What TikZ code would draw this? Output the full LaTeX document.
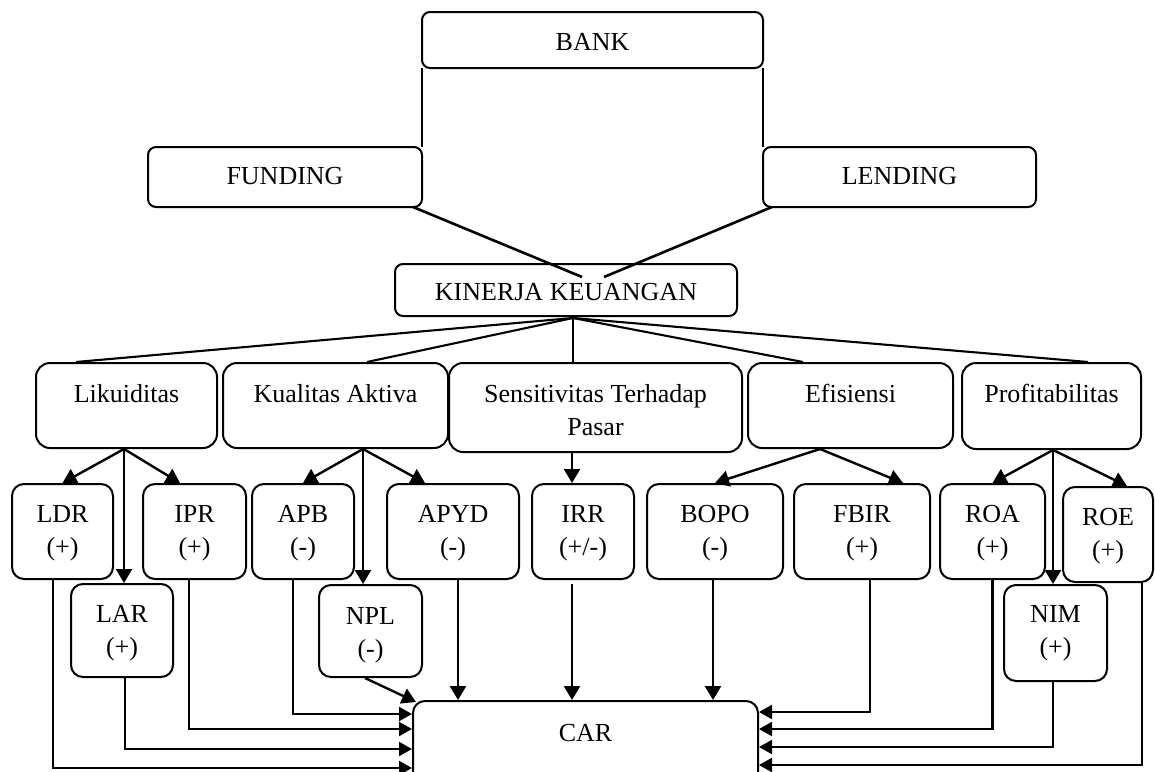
\documentclass[tikz,border=0pt]{standalone}
\usepackage{fontspec}
\setmainfont{Liberation Serif}
\usetikzlibrary{arrows.meta}
\newcommand{\twol}[2]{\begin{tabular}[t]{@{}c@{}}#1\\#2\end{tabular}}
\begin{document}
\begin{tikzpicture}[x=1pt,y=-1pt,
  box/.style={draw, line width=2pt, rounded corners=12pt, inner sep=0pt, anchor=north,
              font=\fontsize{26}{33}\selectfont},
  topbox/.style={box, rounded corners=8pt, outer sep=0pt},
  catbox/.style={box, rounded corners=14pt, text height=39pt},
  smallbox/.style={box, text height=38pt, text depth=57pt},
  ln/.style={line width=2.6pt},
  thinln/.style={line width=1.8pt},
  fan/.style={line width=2.1pt},
  arr/.style={line width=2.4pt, -{Triangle[length=14pt,width=16pt]}},
  arrc/.style={line width=2.2pt, -{Triangle[length=13pt,width=14pt]}},
]
\clip (0,0) rectangle (1155,771);
% top level
\node[topbox, minimum width=341pt, text height=38pt, text depth=18pt] (bank) at (592.5,12) {BANK};
\node[topbox, minimum width=274pt, text height=37pt, text depth=23pt] (funding) at (285,147) {FUNDING};
\node[topbox, minimum width=273pt, text height=37pt, text depth=23pt] (lending) at (899.5,147) {LENDING};
\node[topbox, minimum width=342pt, text height=36pt, text depth=16pt] (kin) at (566,264) {KINERJA KEUANGAN};
% categories
\node[catbox, minimum width=181pt, text depth=46pt] (lik) at (126.5,362) {Likuiditas};
\node[catbox, minimum width=225pt, text depth=46pt] (kua) at (335.5,362) {Kualitas Aktiva};
\node[catbox, minimum width=293pt, text depth=50pt] (sen) at (595.5,362) {\twol{Sensitivitas Terhadap}{Pasar}};
\node[catbox, minimum width=205pt, text depth=46pt] (eff) at (850.5,362) {Efisiensi};
\node[catbox, minimum width=179pt, text depth=47pt] (pro) at (1051.5,362) {Profitabilitas};
% ratios
\node[smallbox, minimum width=101pt] (ldr) at (62.5,483) {\twol{LDR}{(+)}};
\node[smallbox, minimum width=103pt] (ipr) at (194.5,483) {\twol{IPR}{(+)}};
\node[smallbox, minimum width=102pt] (apb) at (303,483) {\twol{APB}{(-)}};
\node[smallbox, minimum width=132pt] (apyd) at (453,483) {\twol{APYD}{(-)}};
\node[smallbox, minimum width=102pt] (irr) at (583,483) {\twol{IRR}{(+/-)}};
\node[smallbox, minimum width=136pt] (bopo) at (715,483) {\twol{BOPO}{(-)}};
\node[smallbox, minimum width=136pt] (fbir) at (862,483) {\twol{FBIR}{(+)}};
\node[smallbox, minimum width=105pt] (roa) at (992.5,483) {\twol{ROA}{(+)}};
\node[smallbox, minimum width=90pt] (roe) at (1108,486) {\twol{ROE}{(+)}};
\node[box, minimum width=102pt, text height=38pt, text depth=55pt] (lar) at (122,583) {\twol{LAR}{(+)}};
\node[box, minimum width=103pt, text height=39pt, text depth=53pt] (npl) at (370.5,584) {\twol{NPL}{(-)}};
\node[box, minimum width=103pt, text height=37pt, text depth=59pt] (nim) at (1055.5,584) {\twol{NIM}{(+)}};
\node[box, minimum width=345pt, text height=40pt, text depth=80pt] (car) at (585.5,700) {CAR};
% top connectors
\draw[thinln] (bank.south west) -- (bank.south west |- funding.north);
\draw[thinln] (bank.south east) -- (bank.south east |- lending.north);
\draw[ln] ([xshift=-9pt]funding.south east) -- ([xshift=16pt,yshift=-13pt]kin.north);
\draw[ln] ([xshift=9pt]lending.south west) -- ([xshift=38pt,yshift=-13pt]kin.north);
% fan
\coordinate (kinb) at ([xshift=7pt,yshift=-2pt]kin.south);
\draw[fan] (kinb) -- ([xshift=-50.5pt]lik.north);
\draw[fan] (kinb) -- ([xshift=31.5pt]kua.north);
\draw[fan] (kinb) -- ([xshift=-22.5pt]sen.north);
\draw[fan] (kinb) -- ([xshift=-47.5pt]eff.north);
\draw[fan] (kinb) -- ([xshift=36.5pt]pro.north);
% branch points
\coordinate (likb) at ([xshift=-2.5pt]lik.south);
\coordinate (kuab) at ([xshift=27.5pt]kua.south);
\coordinate (senb) at ([xshift=-23.5pt]sen.south);
\coordinate (effb) at ([xshift=-30.5pt]eff.south);
\coordinate (prob) at ([xshift=1.5pt]pro.south);
\draw[arr] (likb) -- (ldr.north);
\draw[arr] (likb) -- ([xshift=-14.5pt]ipr.north);
\draw[arr] (likb) -- (likb |- lar.north);
\draw[arr] (kuab) -- (apb.north);
\draw[arr] (kuab) -- ([xshift=-28pt]apyd.north);
\draw[arr] (kuab) -- (kuab |- npl.north);
\draw[arr] (senb) -- (senb |- irr.north);
\draw[arr] (effb) -- (bopo.north);
\draw[arr] (effb) -- ([xshift=41pt]fbir.north);
\draw[arr] (prob) -- (roa.north);
\draw[arr] (prob) -- ([xshift=19pt]roe.north);
\draw[arr] (prob) -- (prob |- nim.north);
% to CAR, left side
\draw[arrc] ([xshift=-9.5pt]ldr.south) |- ([yshift=-68pt]car.north west);
\draw[arrc] ([xshift=3pt]lar.south) |- ([yshift=-49pt]car.north west);
\draw[arrc] ([xshift=-5.5pt]ipr.south) |- ([yshift=-29pt]car.north west);
\draw[arrc] ([xshift=-10pt]apb.south) |- ([yshift=-14pt]car.north west);
\draw[arr] ([xshift=-5.5pt]npl.south) -- ([xshift=4pt,yshift=-2pt]car.north west);
% to CAR, top
\coordinate (apydb) at ([xshift=5pt]apyd.south);
\coordinate (irrb) at ([xshift=-11pt,yshift=-4pt]irr.south);
\coordinate (bopob) at ([xshift=-2pt]bopo.south);
\draw[arr] (apydb) -- (apydb |- car.north);
\draw[arr] (irrb) -- (irrb |- car.north);
\draw[arr] (bopob) -- (bopob |- car.north);
% to CAR, right side
\draw[arrc] ([xshift=8pt]fbir.south) |- ([yshift=-12pt]car.north east);
\draw[arrc] (roa.south) |- ([yshift=-29pt]car.north east);
\draw[arrc] ([xshift=-2.5pt]nim.south) |- ([yshift=-47pt]car.north east);
\draw[arrc] ([xshift=34pt]roe.south) |- ([yshift=-65pt]car.north east);
\end{tikzpicture}
\end{document}
